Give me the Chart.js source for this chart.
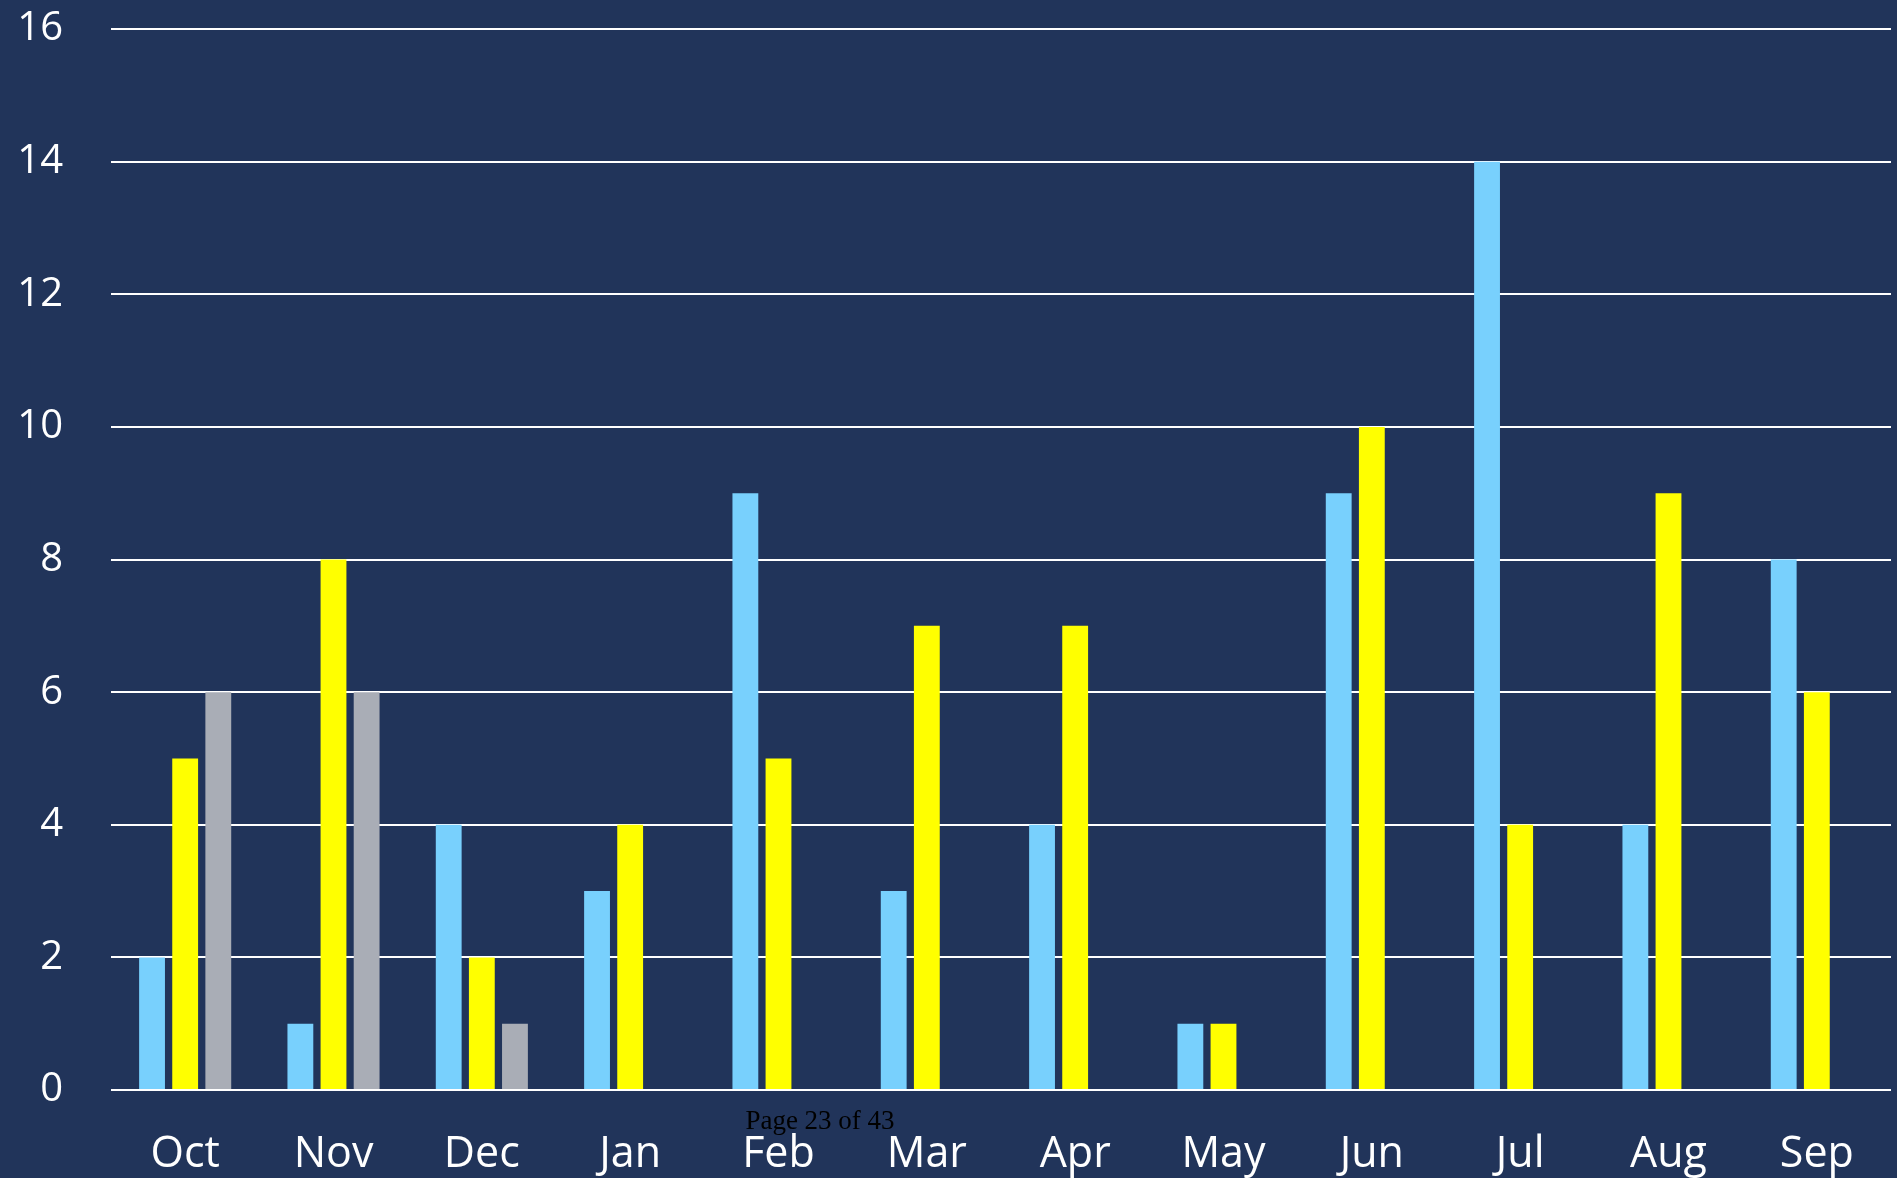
<!DOCTYPE html>
<html lang="en">
<head>
    <meta charset="UTF-8">
    <title>Monthly counts</title>
    <script src="https://cdn.jsdelivr.net/npm/chart.js"></script>
    <style>
        html, body {
            margin: 0;
            padding: 0;
            background-color: #21345a;
            overflow: hidden;
        }

        .chart-box {
            position: relative;
            width: 1897px;
            height: 1178px;
        }

        .page-note {
            position: absolute;
            left: 0;
            width: 1640px;
            top: 1105px;
            text-align: center;
            font-family: 'Liberation Serif', 'DejaVu Serif', serif;
            font-size: 27px;
            color: #000000;
        }
    </style>
</head>
<body>
    <div class="chart-box">
        <canvas id="monthChart" width="1897" height="1178"></canvas>
        <div class="page-note">Page 23 of 43</div>
    </div>

    <script>
        // Data
        const months = ['Oct', 'Nov', 'Dec', 'Jan', 'Feb', 'Mar', 'Apr', 'May', 'Jun', 'Jul', 'Aug', 'Sep'];
        const blueValues = [2, 1, 4, 3, 9, 3, 4, 1, 9, 14, 4, 8];
        const yellowValues = [5, 8, 2, 4, 5, 7, 7, 1, 10, 4, 9, 6];
        const greyValues = [6, 6, 1, null, null, null, null, null, null, null, null, null];

        const barStyle = {
            categoryPercentage: 0.67,
            barPercentage: 0.78,
            borderWidth: 0
        };

        new Chart(document.getElementById('monthChart'), {
            type: 'bar',
            data: {
                labels: months,
                datasets: [
                    Object.assign({ label: 'Series 1', data: blueValues, backgroundColor: '#78d0fd' }, barStyle),
                    Object.assign({ label: 'Series 2', data: yellowValues, backgroundColor: '#ffff00' }, barStyle),
                    Object.assign({ label: 'Series 3', data: greyValues, backgroundColor: '#a9adb6' }, barStyle)
                ]
            },
            options: {
                responsive: false,
                animation: false,
                layout: {
                    padding: { top: 29, right: 6, left: 0, bottom: 0 }
                },
                plugins: {
                    legend: { display: false },
                    tooltip: { enabled: false }
                },
                scales: {
                    x: {
                        grid: { display: false, drawTicks: false },
                        border: { display: false },
                        ticks: {
                            color: '#ffffff',
                            padding: 39,
                            font: { family: "'Open Sans', sans-serif", size: 43 }
                        },
                        afterFit: (scale) => {
                            scale.height = 88;
                            scale.paddingLeft = 0;
                            scale.paddingRight = 0;
                        }
                    },
                    y: {
                        min: 0,
                        max: 16,
                        grid: { color: '#ffffff', lineWidth: 2, drawTicks: false },
                        border: { display: false },
                        ticks: {
                            stepSize: 2,
                            color: '#ffffff',
                            padding: 48,
                            font: { family: "'Open Sans', sans-serif", size: 40 }
                        },
                        afterFit: (scale) => {
                            scale.width = 111;
                            scale.paddingTop = 0;
                            scale.paddingBottom = 0;
                        }
                    }
                }
            }
        });
    </script>
</body>
</html>
